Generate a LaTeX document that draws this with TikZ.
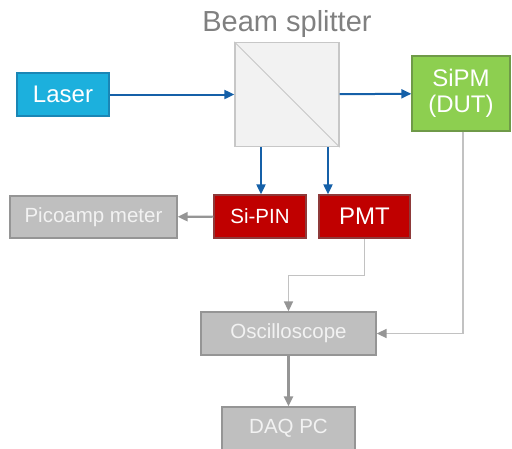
\documentclass[tikz,border=0pt]{standalone}
\usepackage{fontspec}
\setmainfont{Liberation Sans}
\usetikzlibrary{arrows.meta,positioning}

\definecolor{laserblue}{HTML}{1CB0DD}
\definecolor{laserline}{HTML}{1A86B5}
\definecolor{sipmgreen}{HTML}{8DCF50}
\definecolor{sipmline}{HTML}{6F9A48}
\definecolor{detred}{HTML}{C00000}
\definecolor{detline}{HTML}{8E3A3A}
\definecolor{boxgray}{HTML}{BFBFBF}
\definecolor{boxline}{HTML}{959595}
\definecolor{beamblue}{HTML}{1560A8}
\definecolor{wiregray}{HTML}{C2C2C2}

\tikzset{
    blk/.style={draw, line width=1.3pt, inner sep=0pt, align=center},
    graybox/.style={blk, fill=boxgray, draw=boxline, text=white!95!black, font=\fontsize{20.5}{24}\selectfont},
    redbox/.style={blk, fill=detred, draw=detline, text=white},
    beam/.style={draw=beamblue, line width=2pt, -{Triangle[length=10pt,width=9pt]}},
    wire/.style={draw=boxline, line width=2.2pt, -{Triangle[length=10pt,width=9pt]}},
    thinwire/.style={draw=wiregray, line width=1.6pt, -{Triangle[length=10pt,width=9pt,color=boxline]}},
}

\begin{document}
\begin{tikzpicture}[x=1pt, y=-1pt]
    \useasboundingbox (0,0) rectangle (512,448);

    \node[blk, fill=laserblue, draw=laserline, text=white, minimum width=92pt, minimum height=43pt, font=\fontsize{24}{28}\selectfont] (laser) at (63,94.5) {Laser};

    \node[right of=laser, draw=black!22, fill=black!5, line width=1.3pt, minimum size=104pt, node distance=224pt] (bs) {};
    \draw[black!22, line width=1pt] (bs.north west) -- (bs.south east);
    \node[above=4pt of bs, text=black!50, font=\fontsize{29}{34}\selectfont, inner sep=0pt] (bslabel) {Beam splitter};

    \node[blk, fill=sipmgreen, draw=sipmline, text=white, minimum width=98pt, minimum height=75pt, font=\fontsize{24}{28}\selectfont] (sipm) at (461,93.5) {SiPM\\[-2pt](DUT)};

    \node[redbox, minimum width=92pt, minimum height=43pt, font=\fontsize{20.5}{24}\selectfont] (sipin) at (260,216.5) {Si-PIN};
    \node[right of=sipin, redbox, minimum width=91pt, minimum height=43pt, node distance=104.5pt, font=\fontsize{24}{28}\selectfont] (pmt) {PMT};

    \node[graybox, minimum width=167pt, minimum height=42pt] (pico) at (93.5,217) {Picoamp meter};
    \node[graybox, minimum width=175pt, minimum height=43pt] (osc) at (288.5,333.5) {Oscilloscope};
    \node[below of=osc, graybox, minimum width=133pt, minimum height=43pt, node distance=95pt] (daq) {DAQ PC};

    % optical paths
    \draw[beam] (laser) -- (bs);
    \draw[beam] (bs) -- (sipm);
    \coordinate (bsl) at ([xshift=-26pt]bs.south);
    \coordinate (bsr) at ([xshift=41pt]bs.south);
    \draw[beam] (bsl) -- (bsl |- sipin.north);
    \draw[beam] (bsr) -- (bsr |- pmt.north);

    % signal paths
    \draw[wire] (sipin) -- (pico);
    \draw[thinwire] (pmt.south) -- ++(0,37) -| (osc.north);
    \draw[thinwire] ([xshift=2pt]sipm.south) |- (osc.east);
    \draw[wire] (osc) -- (daq);

\end{tikzpicture}
\end{document}
